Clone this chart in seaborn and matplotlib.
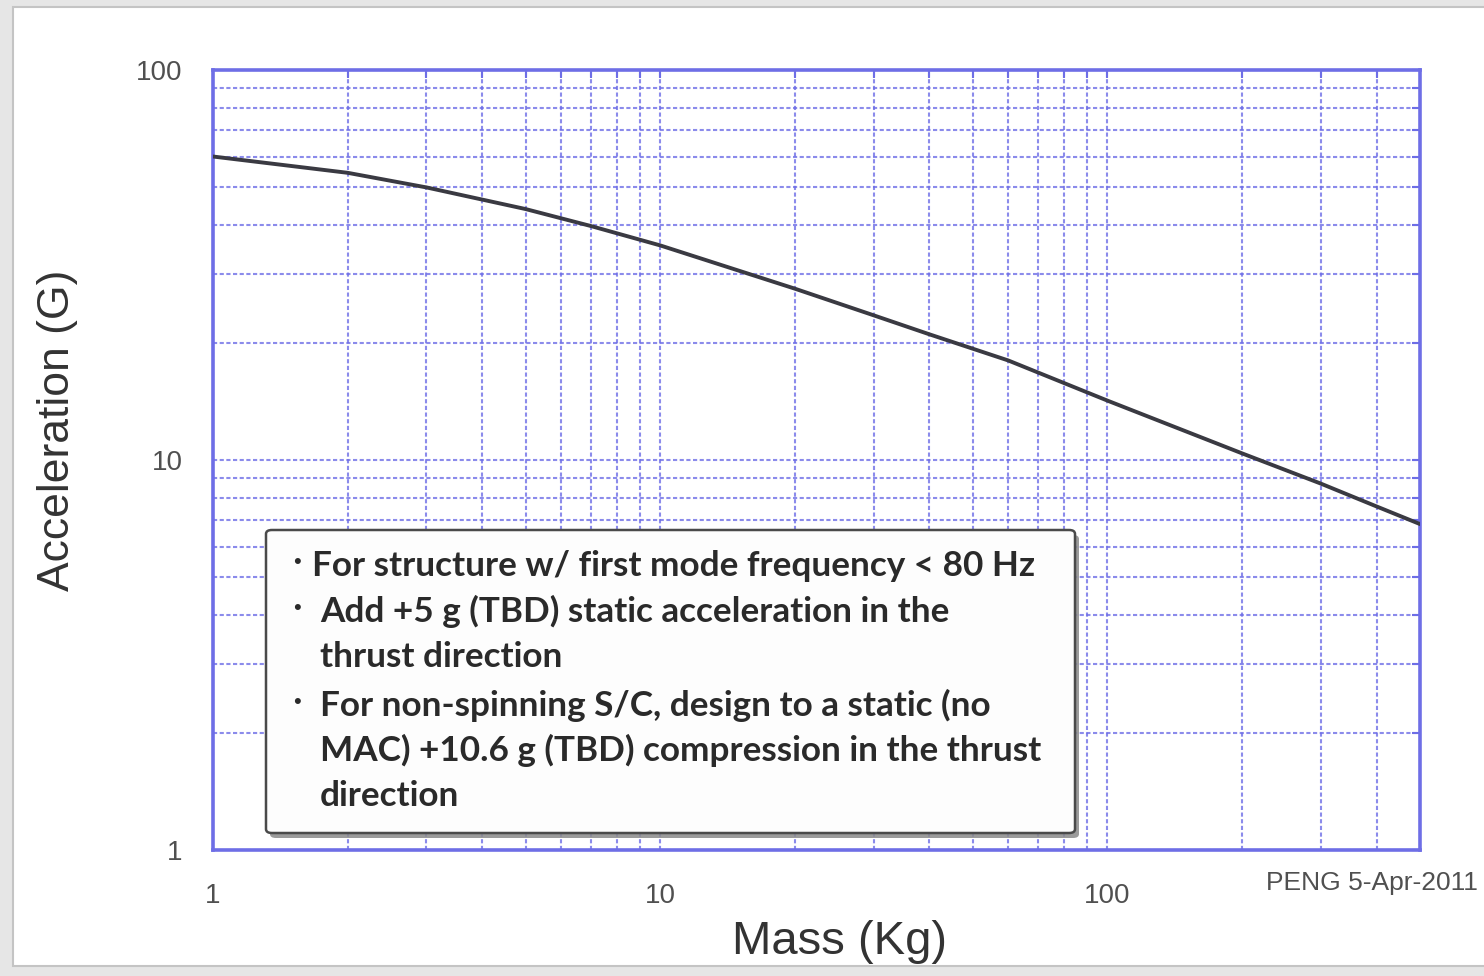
import numpy as np
import pandas as pd
import matplotlib
matplotlib.use("Agg")
import matplotlib.pyplot as plt
import seaborn as sns
from matplotlib.patches import FancyBboxPatch, Rectangle
from matplotlib.ticker import FixedLocator, NullFormatter

# Design load curve: acceleration vs. spacecraft component mass
mass_kg = [1, 2, 3, 5, 7, 10, 20, 30, 40, 60, 100, 200, 300, 400, 500]
accel_g = [60, 54.5, 50, 44, 39.8, 35.5, 27.5, 23.5, 21, 18, 14.2, 10.4, 8.7, 7.6, 6.85]

x_major = [1, 10, 100]
y_major = [1, 10, 100]
x_labels = ["1", "10", "100"]
y_labels = ["1", "10", "100"]

notes = [
    ("\u2022", "For structure w/ first mode frequency < 80 Hz"),
    ("\u2022", "Add +5 g (TBD) static acceleration in the"),
    ("", "thrust direction"),
    ("\u2022", "For non-spinning S/C, design to a static (no"),
    ("", "MAC) +10.6 g (TBD) compression in the thrust"),
    ("", "direction"),
]
stamp = "PENG 5-Apr-2011"

df = pd.DataFrame({"mass": mass_kg, "accel": accel_g})

sns.set_theme(style="white")
plt.rcParams["font.family"] = ["Liberation Sans", "DejaVu Sans"]

W, H = 1484, 976
fig = plt.figure(figsize=(W / 100, H / 100), dpi=100, facecolor="#e6e6e6")


def fx(px):
    return px / W


def fy(py):
    return 1 - py / H


# white slide panel
fig.add_artist(Rectangle((fx(13), fy(966)), fx(W + 10) - fx(13), fy(7) - fy(966),
                         transform=fig.transFigure, facecolor="white",
                         edgecolor="#c4c4c4", lw=1.5, zorder=-10))

ax = fig.add_axes([fx(213), fy(850), fx(1420) - fx(213), fy(70) - fy(850)])
ax.set_facecolor("white")

sns.lineplot(data=df, x="mass", y="accel", ax=ax, color="#3a3a42", lw=2.8, zorder=5)

ax.set_xscale("log")
ax.set_yscale("log")
ax.set_xlim(1, 500)
ax.set_ylim(1, 100)

blue = "#6e6ee6"
minor_x = [m * d for d in (1, 10, 100) for m in range(2, 10) if m * d < 500]
minor_y = [m * d for d in (1, 10) for m in range(2, 10)]
ax.xaxis.set_major_locator(FixedLocator(x_major))
ax.yaxis.set_major_locator(FixedLocator(y_major))
ax.xaxis.set_minor_locator(FixedLocator(minor_x))
ax.yaxis.set_minor_locator(FixedLocator(minor_y))
ax.set_xticklabels(x_labels)
ax.set_yticklabels(y_labels)
ax.xaxis.set_minor_formatter(NullFormatter())
ax.yaxis.set_minor_formatter(NullFormatter())

ax.grid(True, which="both", color=blue, linestyle=(0, (2, 1.2)), lw=1.5, alpha=0.8)
ax.tick_params(which="both", direction="in", top=True, right=True, color=blue,
               width=1.5, length=6, labelsize=20, labelcolor="#505050")
ax.tick_params(axis="x", which="major", pad=24)
ax.tick_params(axis="y", which="major", pad=22)
for sp in ax.spines.values():
    sp.set_visible(True)
    sp.set_color(blue)
    sp.set_linewidth(2.6)
ax.set_xlabel("")
ax.set_ylabel("")

fig.text(fx(840), fy(942), "Mass (Kg)", fontsize=34, color="#333333",
         ha="center", va="center")
fig.text(fx(58), fy(430), "Acceleration (G)", fontsize=32, color="#333333",
         ha="center", va="center", rotation=90)
fig.text(fx(1478), fy(883), stamp, fontsize=19, color="#505050",
         ha="right", va="center")

# note box with drop shadow
bx0, by0, bx1, by1 = 266, 530, 1075, 833
fig.add_artist(FancyBboxPatch((fx(bx0 + 4), fy(by1 + 5)), fx(bx1 - bx0), fy(by0) - fy(by1),
                              boxstyle="round,pad=0,rounding_size=0.004",
                              transform=fig.transFigure, facecolor="#8a8a8a",
                              edgecolor="none", alpha=0.85, zorder=10))
fig.add_artist(FancyBboxPatch((fx(bx0), fy(by1)), fx(bx1 - bx0), fy(by0) - fy(by1),
                              boxstyle="round,pad=0,rounding_size=0.004",
                              transform=fig.transFigure, facecolor="#fdfdfd",
                              edgecolor="#4a4a4a", lw=1.8, zorder=11))

line_y = [566, 611, 657, 705, 750, 796]
for i, ((bullet, txt), yy) in enumerate(zip(notes, line_y)):
    if bullet:
        fig.text(fx(297), fy(yy - 3), bullet, fontsize=16, color="#2a2a2a",
                 ha="center", va="center", zorder=12)
    x0 = 312 if i == 0 else 320
    fig.text(fx(x0), fy(yy), txt, fontsize=25.3, color="#2a2a2a",
             family=["Lato", "DejaVu Sans"], fontweight="bold",
             ha="left", va="center", zorder=12)

fig.savefig("out.png", dpi=100, facecolor=fig.get_facecolor())
